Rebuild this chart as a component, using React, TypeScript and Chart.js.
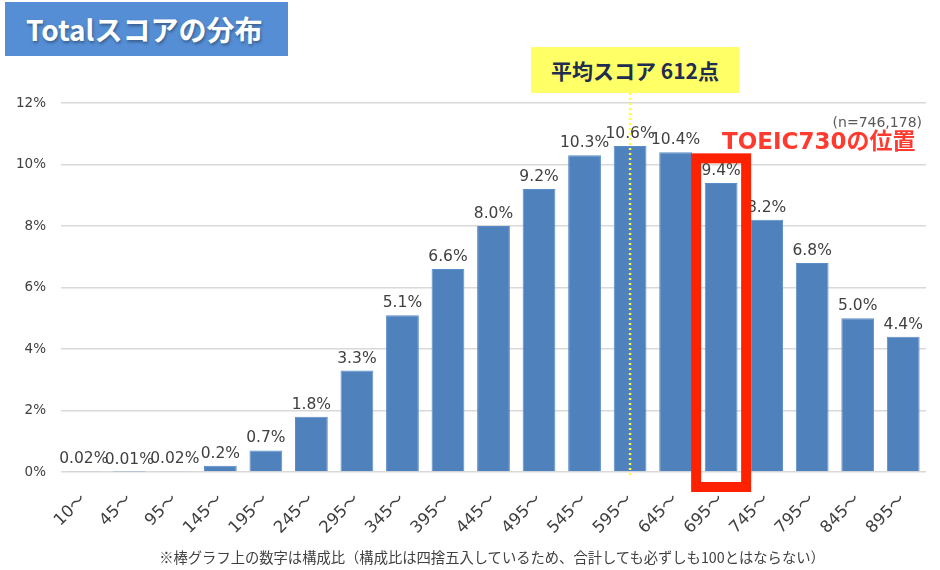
import React, { useEffect, useRef } from 'react';
import { Chart, registerables } from 'chart.js';

Chart.register(...registerables);

const categories = ['10～', '45～', '95～', '145～', '195～', '245～', '295～', '345～', '395～', '445～', '495～', '545～', '595～', '645～', '695～', '745～', '795～', '845～', '895～'];
const shares = [0.02, 0.01, 0.02, 0.2, 0.7, 1.8, 3.3, 5.1, 6.6, 8.0, 9.2, 10.3, 10.6, 10.4, 9.4, 8.2, 6.8, 5.0, 4.4];
const yTickValues = [0, 2, 4, 6, 8, 10, 12];
const meanIndex = 12;
const highlightIndex = 14;
const highlightTop = 10.2;

const titleText = 'Totalスコアの分布';
const meanText = '平均スコア 612点';
const highlightText = 'TOEIC730の位置';
const sampleText = '(n=746,178)';
const footerText = '※棒グラフ上の数字は構成比（構成比は四捨五入しているため、合計しても必ずしも100とはならない）';

const LATIN = '"DejaVu Sans", "Noto Sans CJK JP", sans-serif';
const CJK = '"Noto Sans CJK JP", "DejaVu Sans", sans-serif';

const fmt = (v: number) => v.toFixed(v < 0.1 ? 2 : 1) + '%';

const overlayPlugin = {
  id: 'overlay',
  afterDatasetsDraw(chart: any) {
    const ctx = chart.ctx;
    const meta = chart.getDatasetMeta(0);
    const xs = chart.scales.x;
    const ys = chart.scales.y;
    // value labels
    ctx.save();
    ctx.font = '15.5px ' + LATIN;
    ctx.fillStyle = '#404040';
    ctx.textAlign = 'center';
    ctx.textBaseline = 'alphabetic';
    meta.data.forEach((bar: any, i: number) => {
      ctx.fillText(fmt(shares[i]), bar.x, bar.y - 8);
    });
    ctx.restore();

    // highlight rectangle
    const hx = xs.getPixelForValue(highlightIndex);
    const top = ys.getPixelForValue(highlightTop);
    const bottom = ys.getPixelForValue(0) + 15;
    ctx.save();
    ctx.strokeStyle = '#FF2200';
    ctx.lineWidth = 10;
    ctx.strokeRect(hx - 25, top, 50, bottom - top);
    ctx.restore();

    // mean dotted line
    const mx = xs.getPixelForValue(meanIndex);
    ctx.save();
    ctx.strokeStyle = '#FFFF33';
    ctx.lineWidth = 2.5;
    ctx.setLineDash([2, 3]);
    ctx.beginPath();
    ctx.moveTo(mx, chart.chartArea.top - 10);
    ctx.lineTo(mx, chart.chartArea.bottom + 6);
    ctx.stroke();
    ctx.restore();
  },
};

function BarChart() {
  const ref = useRef<HTMLCanvasElement>(null);
  useEffect(() => {
    if (!ref.current) return;
    const chart = new Chart(ref.current, {
      type: 'bar',
      data: {
        labels: categories,
        datasets: [
          {
            data: shares,
            backgroundColor: '#4F81BD',
            borderColor: '#5A8CC8',
            borderWidth: 1,
            barPercentage: 0.72,
            categoryPercentage: 1,
          },
        ],
      },
      options: {
        animation: false,
        responsive: false,
        maintainAspectRatio: false,
        layout: { padding: { top: 103, right: 14, left: 0, bottom: 0 } },
        plugins: { legend: { display: false }, tooltip: { enabled: false } },
        scales: {
          x: {
            grid: { display: false, drawTicks: false },
            border: { display: false },
            ticks: {
              minRotation: 45,
              maxRotation: 45,
              padding: 18,
              color: '#404040',
              font: { size: 16.5, family: LATIN },
            },
            afterFit: (s: any) => {
              s.height = 98;
              s.paddingLeft = 0;
              s.paddingRight = 0;
            },
          },
          y: {
            min: 0,
            max: 12,
            afterBuildTicks: (s: any) => {
              s.ticks = yTickValues.map((v) => ({ value: v }));
            },
            grid: { color: '#D9D9D9', lineWidth: 1.5, drawTicks: false },
            border: { display: false },
            ticks: {
              padding: 15,
              color: '#404040',
              font: { size: 13.5, family: LATIN },
              callback: (v: any) => v + '%',
            },
            afterFit: (s: any) => {
              s.width = 61;
              s.paddingTop = 0;
              s.paddingBottom = 0;
            },
          },
        },
      },
      plugins: [overlayPlugin],
    });
    return () => chart.destroy();
  }, []);
  return <canvas ref={ref} width={940} height={570} style={{ position: 'absolute', left: 0, top: 0 }} />;
}

export default function App() {
  return (
    <div style={{ position: 'fixed', left: 0, top: 0, width: 940, height: 570, background: '#fff', overflow: 'hidden' }}>
      <BarChart />
      <div
        style={{
          position: 'absolute', left: 5, top: 2, width: 283, height: 54, background: '#558ED5',
          color: '#fff', fontFamily: CJK, fontWeight: 600, fontSize: 28, lineHeight: '54px',
          paddingLeft: 21, boxSizing: 'border-box', textShadow: '1px 2px 3px rgba(0,0,0,0.35)', whiteSpace: 'nowrap',
        }}
      >
        {titleText}
      </div>
      <div
        style={{
          position: 'absolute', left: 531, top: 47, width: 208, height: 46, background: '#FFFF66',
          color: '#1F2D50', fontFamily: CJK, fontWeight: 700, fontSize: 21, lineHeight: '46px',
          textAlign: 'center', whiteSpace: 'nowrap',
        }}
      >
        {meanText}
      </div>
      <div
        style={{
          position: 'absolute', left: 722, top: 126, color: '#FF3B30', fontFamily: LATIN, fontWeight: 700,
          fontSize: 23, lineHeight: '30px', whiteSpace: 'nowrap',
        }}
      >
        {highlightText}
      </div>
      <div
        style={{
          position: 'absolute', right: 18, top: 112, color: '#595959', fontFamily: LATIN,
          fontSize: 14, lineHeight: '20px', whiteSpace: 'nowrap',
        }}
      >
        {sampleText}
      </div>
      <div
        style={{
          position: 'absolute', left: 0, width: 984, top: 546, color: '#404040', fontFamily: CJK,
          fontSize: 14.3, lineHeight: '22px', textAlign: 'center', whiteSpace: 'nowrap',
        }}
      >
        {footerText}
      </div>
    </div>
  );
}
